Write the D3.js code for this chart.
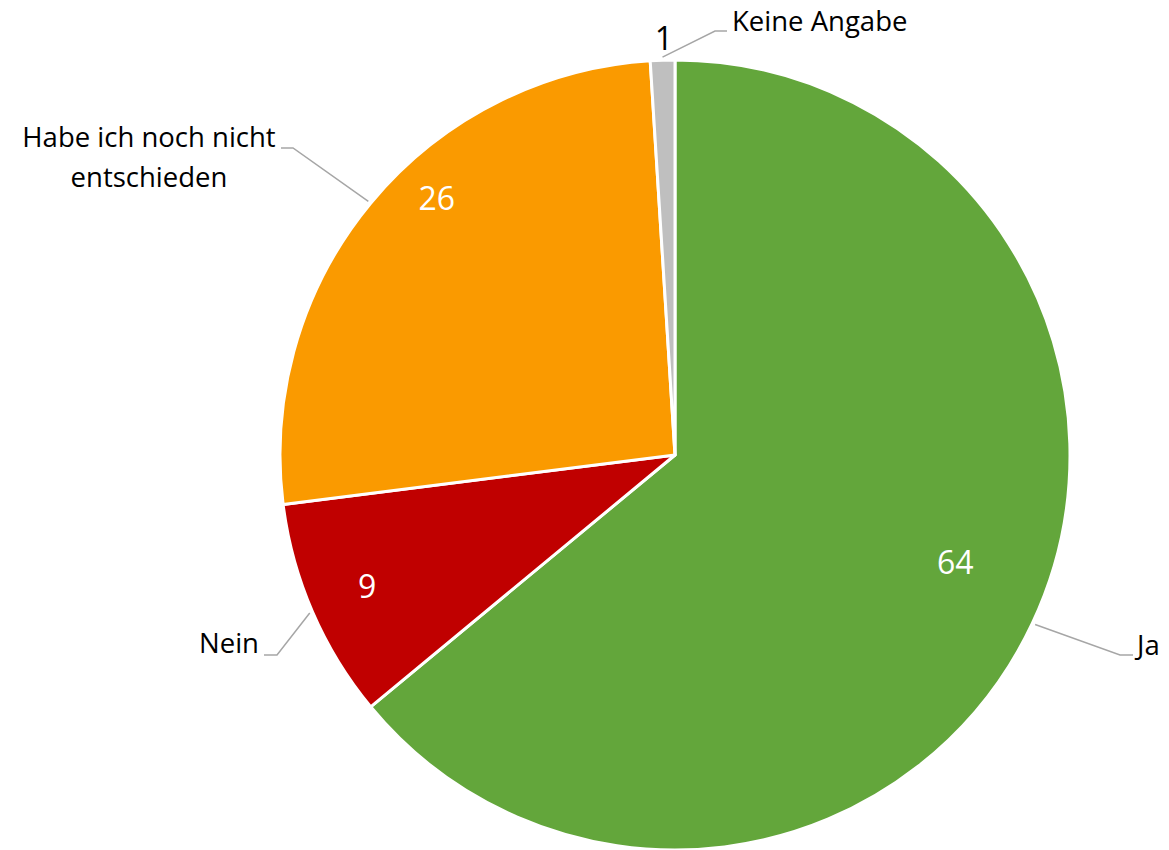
<!DOCTYPE html>
<html><head><meta charset="utf-8">
<script src="https://cdn.jsdelivr.net/npm/d3@7"></script>
<style>
html,body{margin:0;padding:0;background:#fff;}
svg{display:block;}
text{font-family:"Open Sans", sans-serif;}
</style></head>
<body>
<svg id="chart" width="1169" height="850"></svg>
<script>
// Data
const categories = ["Ja", "Nein", "Habe ich noch nicht entschieden", "Keine Angabe"];
const values = [64, 9, 26, 1];
const colors = ["#63A63B", "#C00000", "#FA9A00", "#BFBFBF"];

// Layout (positions only)
const cx = 675, cy = 455, R = 395;
// inner value labels: [angleDeg, radius]; null -> outside
const valuePos = [[110.9, 300], [246.8, 335], [317.1, 350], null];
// leader line elbows (relative to center) and end x
const elbows = [[445, 200, 458], [-398, 200, -411], [-382, -307, -394], [40, -424, 52]];
const labelAnchor = ["start", "end", "middle", "start"];
const labelPos = [[462, 190], [-416, 188], [-526, -318], [57, -434]];
const labelSize = 27.5;

const svg = d3.select("#chart");
const g = svg.append("g").attr("transform", `translate(${cx},${cy})`);

const pie = d3.pie().sort(null).value(d => d.v);
const arcs = pie(values.map((v, i) => ({v, c: categories[i], i})));
const arc = d3.arc().innerRadius(0).outerRadius(R);

g.selectAll("path.slice").data(arcs).join("path")
  .attr("class", "slice")
  .attr("d", arc)
  .attr("fill", d => colors[d.data.i])
  .attr("stroke", "#fff")
  .attr("stroke-width", 3)
  .attr("stroke-linejoin", "round");

function polar(angDeg, r) {
  const a = angDeg * Math.PI / 180;
  return [r * Math.sin(a), -r * Math.cos(a)];
}

// leader lines
arcs.forEach((d, i) => {
  const mid = (d.startAngle + d.endAngle) / 2 * 180 / Math.PI;
  const p0 = polar(mid, R + 3);
  const e = elbows[i];
  g.append("polyline")
    .attr("points", [p0, [e[0], e[1]], [e[2], e[1]]].map(p => p.join(",")).join(" "))
    .attr("fill", "none")
    .attr("stroke", "#A6A6A6")
    .attr("stroke-width", 1.5);
});

// category labels
arcs.forEach((d, i) => {
  const lp = labelPos[i];
  if (i === 2) {
    const t = g.append("text").attr("text-anchor", "middle").attr("font-size", labelSize).attr("fill", "#000");
    t.append("tspan").attr("x", lp[0]).attr("y", lp[1]).attr("dy", "0.35em").text("Habe ich noch nicht");
    t.append("tspan").attr("x", lp[0]).attr("y", lp[1] + 40).attr("dy", "0.35em").text("entschieden");
  } else {
    g.append("text")
      .attr("x", lp[0]).attr("y", lp[1])
      .attr("dy", "0.35em")
      .attr("text-anchor", labelAnchor[i])
      .attr("font-size", labelSize)
      .attr("fill", "#000")
      .text(categories[i]);
  }
});

// value labels
arcs.forEach((d, i) => {
  const vp = valuePos[i];
  if (vp) {
    const p = polar(vp[0], vp[1]);
    g.append("text").attr("x", p[0]).attr("y", p[1]).attr("dy", "0.36em")
      .attr("text-anchor", "middle").attr("font-size", 32).attr("fill", "#fff")
      .text(values[i]);
  } else {
    g.append("text").attr("x", -11).attr("y", -417).attr("dy", "0.36em")
      .attr("text-anchor", "middle").attr("font-size", 32).attr("fill", "#000")
      .text(values[i]);
  }
});
</script>
</body></html>
